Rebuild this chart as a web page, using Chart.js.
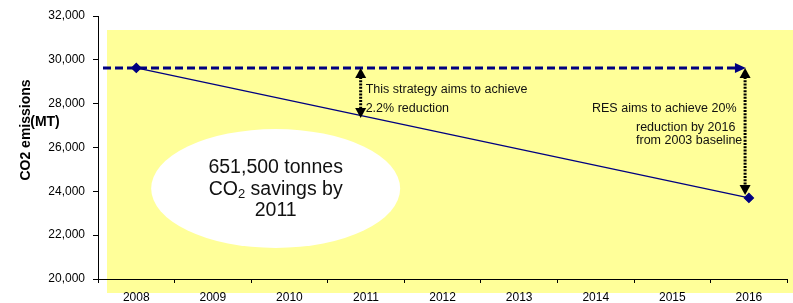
<!DOCTYPE html>
<html>
<head>
<meta charset="utf-8">
<script src="https://cdn.jsdelivr.net/npm/chart.js@4.4.0/dist/chart.umd.min.js"></script>
<style>
  html, body { margin: 0; padding: 0; background: #fff; }
</style>
</head>
<body>
<canvas id="chart" width="793" height="303"></canvas>
<script>
// values
const years = ['2008', '2009', '2010', '2011', '2012', '2013', '2014', '2015', '2016'];
const emissions = [29630, null, null, null, null, null, null, null, 23700];
const baseline = 29630;         // dashed "do nothing" level
const strategyLow = 27350;      // lower end of the 2011 arrow
const resTarget = 23700;        // lower end of the 2016 arrow
const yMin = 20000;
const yMax = 32000;
const yStep = 2000;

const ellipseLines = ['651,500 tonnes', 'CO|2| savings by', '2011'];
const strategyNote = ['This strategy aims to achieve', '2.2% reduction'];
const resNote = ['RES aims to achieve 20%', 'reduction by 2016', 'from 2003 baseline'];

const FONT = "'Liberation Sans', Arial, sans-serif";
const NAVY = '#000080';

function arrowHead(ctx, x, y, dx, dy, len, half) {
  // tip at x,y pointing in direction dx,dy
  ctx.beginPath();
  ctx.moveTo(x, y);
  ctx.lineTo(x - dx * len - dy * half, y - dy * len - dx * half);
  ctx.lineTo(x - dx * len + dy * half, y - dy * len + dx * half);
  ctx.closePath();
  ctx.fill();
}

function dottedArrow(ctx, x, y1, y2) {
  ctx.save();
  ctx.strokeStyle = '#000';
  ctx.fillStyle = '#000';
  ctx.lineWidth = 3;
  ctx.setLineDash([2, 1.3]);
  ctx.beginPath();
  ctx.moveTo(x, y1 + 9);
  ctx.lineTo(x, y2 - 9);
  ctx.stroke();
  ctx.setLineDash([]);
  arrowHead(ctx, x, y1, 0, -1, 10, 5.5);
  arrowHead(ctx, x, y2, 0, 1, 10, 5.5);
  ctx.restore();
}

const decorations = {
  id: 'decorations',
  beforeDraw(chart) {
    const { ctx, chartArea } = chart;
    ctx.save();
    ctx.fillStyle = '#FFFF99';
    ctx.fillRect(chartArea.left + 9, chartArea.top + 14, chart.width - chartArea.left - 9, chartArea.bottom - chartArea.top);
    ctx.restore();
  },
  afterDatasetsDraw(chart) {
    const { ctx, chartArea } = chart;
    const x = chart.scales.x;
    const y = chart.scales.y;

    // dashed baseline with arrow head
    const yb = y.getPixelForValue(baseline);
    const tipX = x.getPixelForValue(8) - 3;
    ctx.save();
    ctx.strokeStyle = NAVY;
    ctx.fillStyle = NAVY;
    ctx.lineWidth = 3;
    ctx.setLineDash([8, 4]);
    ctx.beginPath();
    ctx.moveTo(chartArea.left + 5, yb);
    ctx.lineTo(tipX - 9, yb);
    ctx.stroke();
    ctx.setLineDash([]);
    arrowHead(ctx, tipX, yb, 1, 0, 11, 5);
    ctx.restore();

    // reduction arrows
    dottedArrow(ctx, x.getPixelForValue(2.93), yb, y.getPixelForValue(strategyLow));
    dottedArrow(ctx, x.getPixelForValue(7.95), yb, y.getPixelForValue(resTarget) - 3);

    // notes
    ctx.save();
    ctx.fillStyle = '#111';
    ctx.textBaseline = 'alphabetic';
    ctx.font = '12.5px ' + FONT;
    const sx = x.getPixelForValue(2.93) + 5;
    ctx.fillText(strategyNote[0], sx, 93);
    ctx.fillText(strategyNote[1], sx, 112);
    ctx.fillText(resNote[0], 592, 112);
    ctx.fillText(resNote[1], 636, 131);
    ctx.fillText(resNote[2], 636, 144);
    ctx.restore();

    // white ellipse with savings text
    const cx = x.getPixelForValue(1.82);
    const cy = y.getPixelForValue(24130);
    ctx.save();
    ctx.fillStyle = '#fff';
    ctx.beginPath();
    ctx.ellipse(cx, cy, 124.5, 59.5, 0, 0, Math.PI * 2);
    ctx.fill();
    ctx.fillStyle = '#111';
    const offs = [-15.5, 6.5, 28];
    ellipseLines.forEach((line, i) => {
      const parts = line.split('|');
      const big = '19.5px ' + FONT;
      const small = '13px ' + FONT;
      let w = 0;
      parts.forEach((p, j) => {
        ctx.font = j % 2 ? small : big;
        w += ctx.measureText(p).width;
      });
      let px = cx - w / 2;
      parts.forEach((p, j) => {
        ctx.font = j % 2 ? small : big;
        ctx.fillText(p, px, cy + offs[i] + (j % 2 ? 3 : 0));
        px += ctx.measureText(p).width;
      });
    });
    ctx.restore();
  },
  afterDraw(chart) {
    const { ctx } = chart;
    ctx.save();
    ctx.fillStyle = '#000';
    ctx.font = 'bold 14px ' + FONT;
    ctx.textAlign = 'center';
    ctx.textBaseline = 'middle';
    ctx.translate(26, 130);
    ctx.rotate(-Math.PI / 2);
    ctx.fillText('CO2 emissions', 0, 0);
    ctx.restore();
    ctx.save();
    ctx.fillStyle = '#000';
    ctx.font = 'bold 14px ' + FONT;
    ctx.textAlign = 'center';
    ctx.textBaseline = 'middle';
    ctx.fillText('(MT)', 45, 122);
    ctx.restore();
  }
};

new Chart(document.getElementById('chart'), {
  type: 'line',
  data: {
    labels: years,
    datasets: [
      {
        label: 'CO2 emissions',
        data: emissions,
        borderColor: NAVY,
        borderWidth: 1.3,
        pointStyle: 'rectRot',
        pointRadius: 4.5,
        pointBackgroundColor: NAVY,
        pointBorderColor: NAVY,
        spanGaps: true,
        tension: 0,
      },
    ],
  },
  plugins: [decorations],
  options: {
    responsive: false,
    animation: false,
    devicePixelRatio: 1,
    layout: { padding: { top: 16, left: 0, right: 0, bottom: 0 } },
    plugins: {
      legend: { display: false },
      tooltip: { enabled: false },
    },
    scales: {
      x: {
        offset: true,
        afterFit: (s) => { s.height = 24; },
        grid: { offset: true, drawOnChartArea: false, tickLength: 4, color: '#000' },
        border: { color: '#000', width: 1 },
        ticks: { font: { family: FONT, size: 12 }, color: '#000', padding: 7, maxRotation: 0, autoSkip: false },
      },
      y: {
        min: yMin,
        max: yMax,
        afterFit: (s) => { s.width = 98; },
        grid: { drawOnChartArea: false, tickLength: 5, color: '#000' },
        border: { color: '#000', width: 1 },
        ticks: {
          stepSize: yStep,
          font: { family: FONT, size: 12 },
          color: '#000',
          padding: 8,
          callback: (v) => v.toLocaleString('en-US'),
        },
      },
    },
  },
});
</script>
</body>
</html>
